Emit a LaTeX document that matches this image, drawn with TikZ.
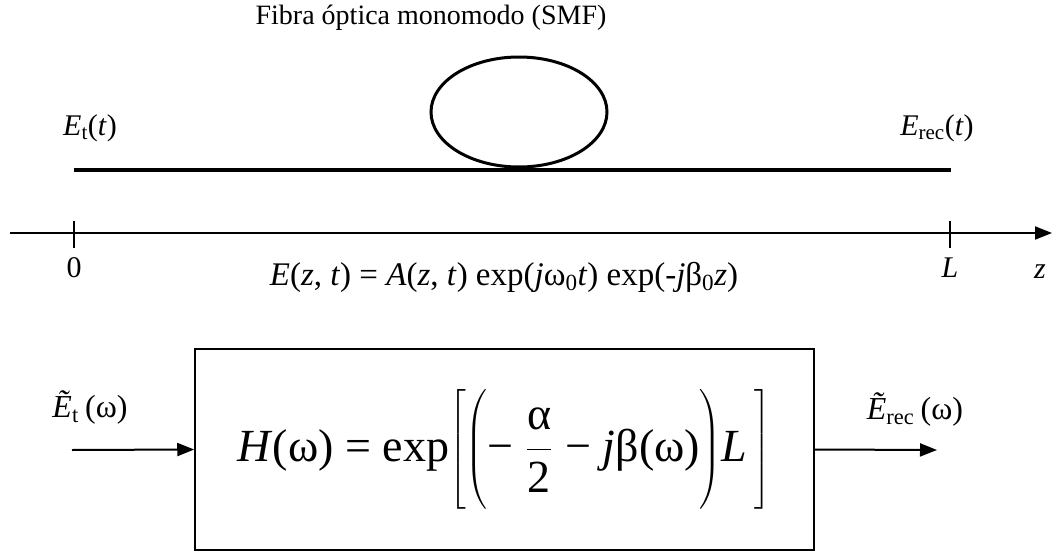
\RequirePackage{fix-cm}
\documentclass[tikz,border=0pt]{standalone}
\usepackage{amsmath}
\usepackage{fontspec}
\setmainfont{Liberation Serif}
\usetikzlibrary{arrows.meta,positioning}
\newcommand{\ivar}[1]{\textit{#1}}

\begin{document}
\begin{tikzpicture}[x=1pt,y=-1pt,
  txt/.style={font=\fontsize{30}{34}\selectfont,inner sep=0pt},
  fibre/.style={line width=4pt},
  axis/.style={line width=2pt},
  sig/.style={line width=2pt,-{Triangle[length=17pt,width=13pt]}}]
  \useasboundingbox (0,0) rectangle (1058,554);
  \node[txt,font=\fontsize{28}{32}\selectfont] (title) at (431,18) {Fibra óptica monomodo (SMF)};
  % fibre with its loop
  \draw[fibre] (74,170) -- (951,170);
  \draw[line width=3pt] (519,112) ellipse [x radius=88,y radius=55];
  \node[txt] (Et) at (90,128) {\ivar{E}\textsubscript{t}(\ivar{t})};
  \node[txt] (Erec) at (937,128) {\ivar{E}\textsubscript{rec}(\ivar{t})};
  % z axis
  \coordinate (zs) at (10,233); \coordinate (ze) at (1052,233);
  \draw[axis,-{Triangle[length=17pt,width=13pt]}] (zs) -- (ze);
  \draw[axis] (74,221) -- (74,248); \draw[axis] (950,221) -- (950,248);
  \node[txt] (zero) at (74,268) {0};
  \node[txt] (Lz) at (950,268) {\ivar{L}};
  \node[txt] (zlab) at (1040,272) {\ivar{z}};
  \node[txt,font=\fontsize{33}{36}\selectfont] (field) at (504,277) {\ivar{E}(\ivar{z}, \ivar{t}) = \ivar{A}(\ivar{z}, \ivar{t}) exp(\ivar{j}ω\textsubscript{0}\ivar{t}) exp(-\ivar{j}β\textsubscript{0}\ivar{z})};
  % transfer function block
  \node[draw,line width=1.5pt,minimum width=619,minimum height=201,inner sep=0pt,
    font=\fontsize{46}{52}\selectfont] (H) at (504.5,449.5)
    {\ivar{H}(ω) = exp$\left[\rule[-48pt]{0pt}{118pt}\!\left(\rule[-45pt]{0pt}{112pt}\text{−}\;\dfrac{\text{α}}{\text{2}}\;\text{− \ivar{j}β(ω)}\right)\!\text{\ivar{L}}\,\right]$};
  \coordinate (in) at (72,450); \coordinate (out) at (937,450);
  \draw[sig] (in) -- (H.west);
  \draw[sig] (H.east) -- (out);
  \node[txt,font=\fontsize{32}{36}\selectfont] (Ein) at (90,408) {\ivar{\~E}\textsubscript{t}\hspace{0.2em}(ω)};
  \node[txt,font=\fontsize{32}{36}\selectfont] (Eout) at (915,410) {\ivar{\~E}\textsubscript{rec}\hspace{0.2em}(ω)};
\end{tikzpicture}
\end{document}
